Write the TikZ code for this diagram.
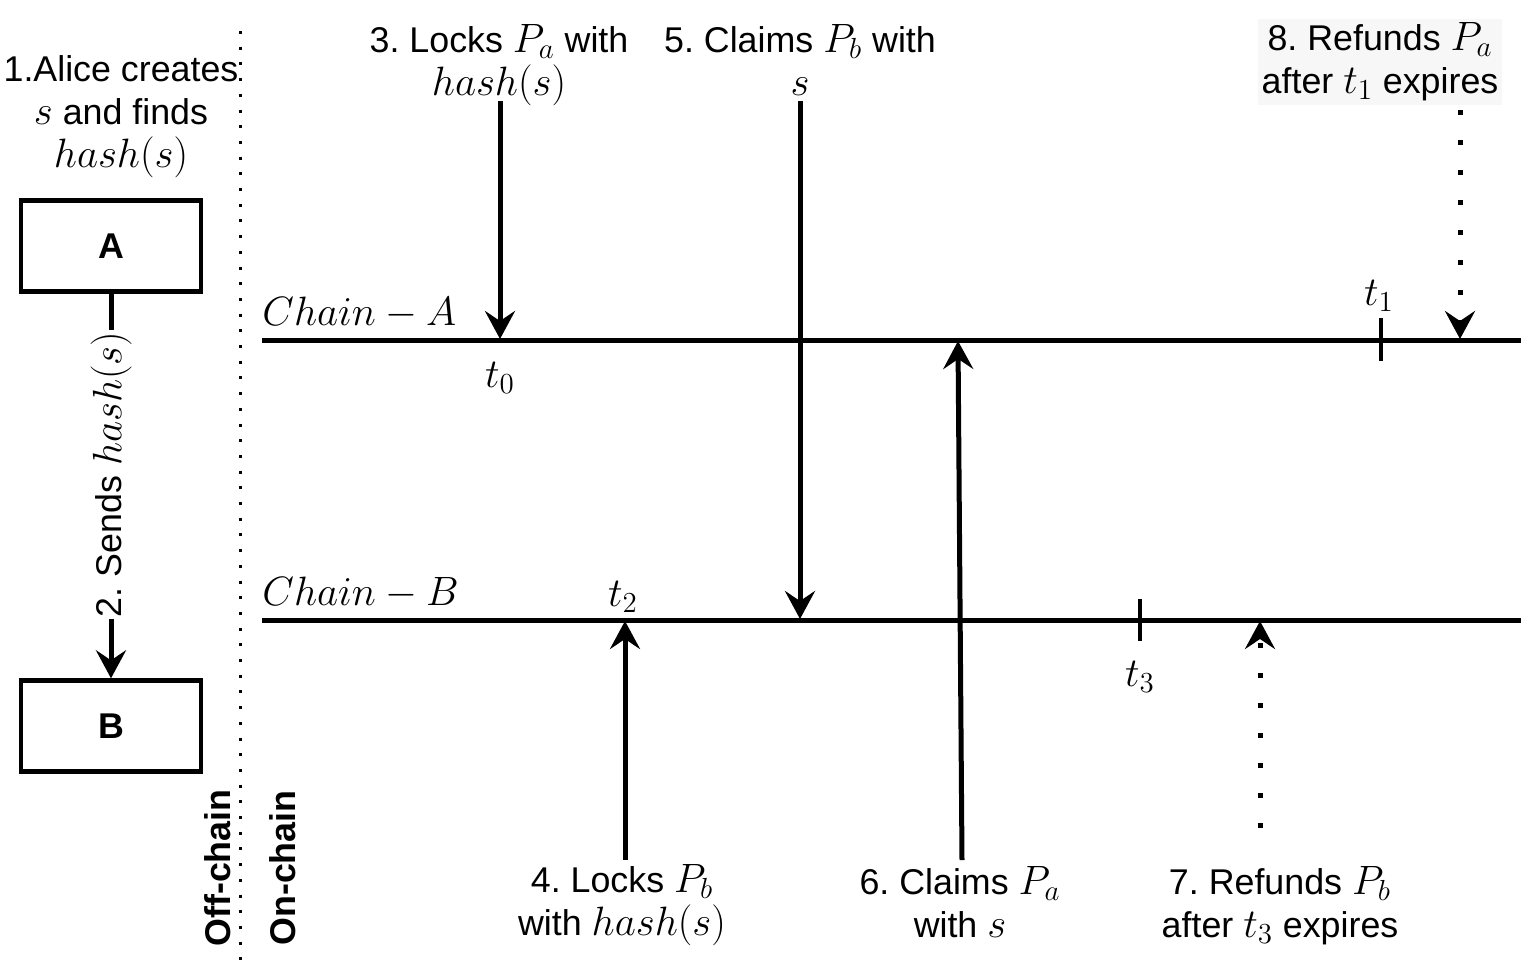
\RequirePackage{fix-cm}
\documentclass[tikz,border=0pt]{standalone}
\usepackage{fontspec}
\setmainfont{Liberation Sans}
\DeclareMathSizes{17.9}{20.5}{14.5}{11}
\frenchspacing
\usetikzlibrary{arrows.meta}
\begin{document}
\begin{tikzpicture}[x=0.5pt,y=-0.5pt,
  lbl/.style={font=\fontsize{17.9}{21.5}\selectfont, align=center, inner sep=0pt},
  bold/.style={font=\fontsize{17.9}{21.5}\selectfont\bfseries, inner sep=0pt},
  box/.style={draw, line width=2.2pt, minimum width=90pt, minimum height=45.5pt, font=\fontsize{17.9}{21.5}\selectfont\bfseries},
  chain/.style={line width=2.5pt},
  tick/.style={line width=2pt},
  arr/.style={line width=2.5pt, -{Stealth[length=14pt,width=15pt,inset=5pt]}},
  dotarr/.style={line width=2.5pt, dash pattern=on 2.5pt off 12.5pt, -{Stealth[length=14pt,width=15pt,inset=5pt]}},
  sep/.style={line width=1.5pt, dash pattern=on 1.5pt off 6.35pt}
]
\useasboundingbox (0,0) rectangle (1526,966);

% separator
\coordinate (sepTop) at (240,31);
\coordinate (sepBot) at (240,966);
\draw[sep] (sepTop) -- (sepBot);

% Off-chain part
\node[lbl] (alice) at (121,117) {1.Alice creates\\$s$ and finds\\$hash(s)$};
\node[box] (A) at (111,246) {A};
\node[box] (B) at (111,726) {B};
\draw[arr] (A.south) -- node[pos=0.47, lbl, fill=white, rotate=90, inner sep=1pt] (send) {2. Sends $hash(s)$} (B.north);

\node[bold, rotate=90] (off) at (218,868) {Off-chain};
\node[bold, rotate=90] (on) at (283,868) {On-chain};

% chains
\coordinate (caL) at (262,340);
\coordinate (caR) at (1521,340);
\coordinate (cbL) at (262,620);
\coordinate (cbR) at (1521,620);
\draw[chain] (caL) -- (caR);
\draw[chain] (cbL) -- (cbR);
\node[lbl, anchor=base west] (chA) at (262,325) {$Chain-A$};
\node[lbl, anchor=base west] (chB) at (262,605) {$Chain-B$};

% ticks
\coordinate (t1a) at (1381,318);
\coordinate (t1b) at (1381,361);
\draw[tick] (t1a) -- (t1b);
\coordinate (t3a) at (1140,599);
\coordinate (t3b) at (1140,641);
\draw[tick] (t3a) -- (t3b);

\node[lbl] (t0) at (500,378) {$t_0$};
\node[lbl] (t1) at (1379,296) {$t_1$};
\node[lbl] (t2) at (623,597) {$t_2$};
\node[lbl] (t3) at (1140,677) {$t_3$};

% top labels
\node[lbl] (l3) at (499,65) {3. Locks $P_a$ with\\$hash(s)$};
\node[lbl] (l5) at (800,60) {5. Claims $P_b$ with\\$s$};
\node[lbl, fill=black!3, inner sep=2pt] (l8) at (1380,62) {8. Refunds $P_a$\\after $t_1$ expires};

% bottom labels
\node[lbl] (l4) at (622,905) {4. Locks $P_b$\\with $hash(s)$};
\node[lbl] (l6) at (960,902) {6. Claims $P_a$\\with $s$};
\node[lbl] (l7) at (1280,906) {7. Refunds $P_b$\\after $t_3$ expires};

% arrow ends
\coordinate (s3) at (500,101);
\coordinate (e3) at (500,339);
\coordinate (s5) at (800,101);
\coordinate (e5) at (800,619);
\coordinate (s4) at (625,860);
\coordinate (e4) at (625,621);
\coordinate (s6) at (962,860);
\coordinate (e6) at (958,341);
\coordinate (s7) at (1260,828);
\coordinate (e7) at (1260,621);
\coordinate (s8) at (1460,110);
\coordinate (e8) at (1460,339);

\draw[arr] (s3) -- (e3);
\draw[arr] (s5) -- (e5);
\draw[arr] (s4) -- (e4);
\draw[arr] (s6) -- (e6);
\draw[dotarr] (s7) -- (e7);
\draw[dotarr] (s8) -- (e8);
\end{tikzpicture}
\end{document}
